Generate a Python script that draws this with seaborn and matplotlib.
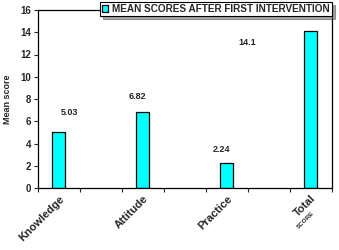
import pandas as pd
import matplotlib.pyplot as plt
import seaborn as sns
from matplotlib.ticker import MultipleLocator, FixedLocator

# data
categories = ['Knowledge', 'Attitude', 'Practice', 'Total']
scores = [5.03, 6.82, 2.24, 14.1]
value_labels = ['5.03', '6.82', '2.24', '14.1']
# the chart leaves an empty slot between each pair of bars
slots = ['Knowledge', 'gap1', 'Attitude', 'gap2', 'Practice', 'gap3', 'Total']
# where the value labels sit (slot units, score units)
label_x = [0.24, 1.86, 3.88, 4.48]
label_y = [6.75, 8.2, 3.5, 13.1]

sns.set_style('white')
plt.rcParams['font.family'] = ['Liberation Sans', 'DejaVu Sans']

df = pd.DataFrame({'Category': categories, 'Score': scores})

fig = plt.figure(figsize=(3.39, 2.5), dpi=100)
ax = fig.add_axes([0.112, 0.248, 0.867, 0.712])

sns.barplot(x='Category', y='Score', data=df, order=slots, color='#00FFFF',
            edgecolor='black', linewidth=0.9, width=0.31, saturation=1,
            label='MEAN SCORES AFTER FIRST INTERVENTION', ax=ax)

ax.set_xlim(-0.5, 6.5)
ax.set_ylim(0, 16)
ax.yaxis.set_major_locator(MultipleLocator(2))
ax.set_ylabel('Mean score', fontsize=6.5, fontweight='bold', labelpad=6)
ax.set_xlabel('')

ax.set_xticks([0, 2, 4, 6])
ax.set_xticklabels(['Knowledge', 'Attitude', 'Practice', 'Total'],
                   rotation=45, ha='right', rotation_mode='anchor',
                   fontsize=8, fontweight='bold')
ax.xaxis.set_minor_locator(FixedLocator([i - 0.5 for i in range(8)]))
ax.tick_params(axis='x', which='major', length=0, pad=4)
ax.tick_params(axis='x', which='minor', length=3, width=0.8, direction='out', bottom=True)
ax.tick_params(axis='y', length=3, width=0.8, direction='out', left=True,
               labelsize=7, pad=2)
for t in ax.get_yticklabels():
    t.set_fontweight('bold')

for s in ax.spines.values():
    s.set_linewidth(0.9)
    s.set_color('black')

for x, y, t in zip(label_x, label_y, value_labels):
    ax.text(x, y, t, ha='center', va='center', fontsize=6.5, fontweight='bold')

# small "SCORE" under "Total"
ax.text(5.88, -2.9, 'SCORE', rotation=45, ha='center', va='center',
        fontsize=4.5, fontweight='bold')

leg = ax.legend(loc='upper right', bbox_to_anchor=(1.0, 1.045), fontsize=7.2,
                frameon=True, fancybox=False, shadow=True, handlelength=0.6,
                handleheight=0.6, handletextpad=0.4, borderpad=0.2,
                borderaxespad=0)
leg.get_frame().set_edgecolor('black')
leg.get_frame().set_linewidth(0.8)
for t in leg.get_texts():
    t.set_fontweight('bold')

fig.savefig('out.png', dpi=100)
